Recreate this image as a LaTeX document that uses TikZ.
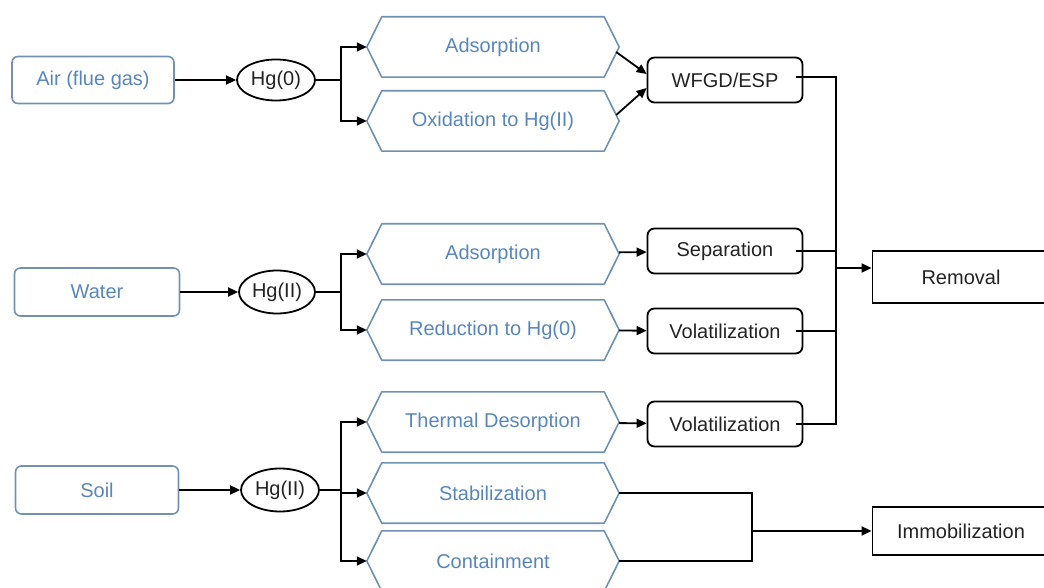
\documentclass[tikz,border=0pt]{standalone}
\usepackage{fontspec}
\setmainfont{Liberation Sans}
\usetikzlibrary{arrows.meta,shapes.geometric,calc}
\definecolor{bluetxt}{RGB}{88,134,186}
\definecolor{bluebord}{RGB}{112,146,176}
\definecolor{darktxt}{RGB}{35,35,35}
\tikzset{
  srcbox/.style={draw=bluebord, line width=1.6pt, rounded corners=6pt, text=bluetxt, font=\fontsize{20}{24}\selectfont, inner sep=0pt},
  hgnode/.style={draw=black, ellipse, line width=1.8pt, text=darktxt, font=\fontsize{20}{24}\selectfont, inner sep=0pt},
  hexa/.style={minimum width=252pt, minimum height=60pt, inner sep=0pt, text=bluetxt, font=\fontsize{20}{24}\selectfont},
  hexline/.style={draw=bluebord, line width=1.6pt, line join=round},
  procbox/.style={draw=black, line width=1.8pt, rounded corners=7pt, minimum width=155pt, minimum height=45pt, text=darktxt, font=\fontsize{20}{24}\selectfont, inner sep=0pt},
  endbox/.style={draw=black, line width=1.8pt, minimum width=177pt, text=darktxt, font=\fontsize{20}{24}\selectfont, inner sep=0pt},
  arr/.style={draw=black, line width=1.8pt, -{Triangle[length=10pt,width=9pt]}},
  ln/.style={draw=black, line width=1.8pt},
  thin/.style={draw=black, line width=1.3pt}
}
\begin{document}
\begin{tikzpicture}[x=1pt,y=-1pt]
\useasboundingbox (0,0) rectangle (1044,588);
% sources
\node[srcbox, minimum width=162pt, minimum height=47pt] (air) at (93,80) {Air (flue gas)};
\node[srcbox, minimum width=165pt, minimum height=48pt] (water) at (97,292) {Water};
\node[srcbox, minimum width=163pt, minimum height=48pt] (soil) at (97,490) {Soil};
% Hg species
\node[hgnode, minimum width=78pt, minimum height=41pt] (hg1) at (276,80) {Hg(0)};
\node[hgnode, minimum width=76pt, minimum height=43pt] (hg2) at (277,292) {Hg(II)};
\node[hgnode, minimum width=78pt, minimum height=43pt] (hg3) at (280,490) {Hg(II)};
% hexagons
\node[hexa] (h1) at (493,47) {Adsorption};
\node[hexa] (h2) at (493,121) {Oxidation to Hg(II)};
\node[hexa] (h3) at (493,254) {Adsorption};
\node[hexa] (h4) at (493,330) {Reduction to Hg(0)};
\node[hexa] (h5) at (493,422) {Thermal Desorption};
\node[hexa] (h6) at (493,493) {Stabilization};
\node[hexa] (h7) at (493,561) {Containment};
\foreach \n in {h1,h2,h3,h4,h5,h6,h7}{
  \draw[hexline] (\n.west) -- ([xshift=15pt]\n.north west) -- ([xshift=-15pt]\n.north east) -- (\n.east)
    -- ([xshift=-15pt]\n.south east) -- ([xshift=15pt]\n.south west) -- cycle;
}
% process boxes
\node[procbox] (wfgd) at (725,80) {WFGD/ESP};
\node[procbox] (sep) at (725,251) {Separation};
\node[procbox] (vol1) at (725,331) {Volatilization};
\node[procbox] (vol2) at (725,424) {Volatilization};
% end boxes
\node[endbox, minimum height=52pt] (rem) at (961,277) {Removal};
\node[endbox, minimum height=48pt] (imm) at (961,531) {Immobilization};
% source -> Hg
\draw[arr] (air) -- (hg1);
\draw[arr] (water) -- (hg2);
\draw[arr] (soil) -- (hg3);
% branches
\coordinate (b1) at (341,80);
\coordinate (b2) at (341,292);
\coordinate (b3) at (341,490);
\draw[ln] (hg1.east) -- (b1);
\draw[ln] (hg2.east) -- (b2);
\draw[ln] (hg3.east) -- (b3);
\draw[arr] (b1) |- (h1.west);
\draw[arr] (b1) |- (h2.west);
\draw[arr] (b2) |- (h3.west);
\draw[arr] (b2) |- (h4.west);
\draw[arr] (b3) |- (h5.west);
\draw[arr] (b3) |- (h6.west);
\draw[arr] (b3) |- (h7.west);
% hexagons -> process
\draw[arr] ([xshift=-3pt,yshift=-5pt]h1.east) -- ([yshift=6pt]wfgd.west);
\draw[arr] ([xshift=-3pt,yshift=6pt]h2.east) -- ([yshift=-8pt]wfgd.west);
\draw[arr] (h3) -- (sep);
\draw[arr] (h4) -- (vol1);
\draw[arr] (h5) -- (vol2);
% collector to Removal
\coordinate (c1) at (836,77);
\coordinate (c4) at (836,424);
\coordinate (rj) at (836,268);
\draw[ln] ([xshift=-7pt]wfgd.east |- c1) -- (c1) -- (c4) -- ([xshift=-7pt]vol2.east);
\draw[thin] ([xshift=-7pt]sep.east) -- (sep.east -| c1);
\draw[thin] ([xshift=-7pt]vol1.east) -- (vol1.east -| c1);
\draw[arr] (rj) -- (rj -| rem.west);
% immobilization collector
\coordinate (s1) at (752,493);
\coordinate (s2) at (752,561);
\coordinate (sj) at (752,531);
\draw[ln] (h6.east) -- (s1) -- (s2) -- (h7.east);
\draw[arr] (sj) -- (imm.west);
\end{tikzpicture}
\end{document}
